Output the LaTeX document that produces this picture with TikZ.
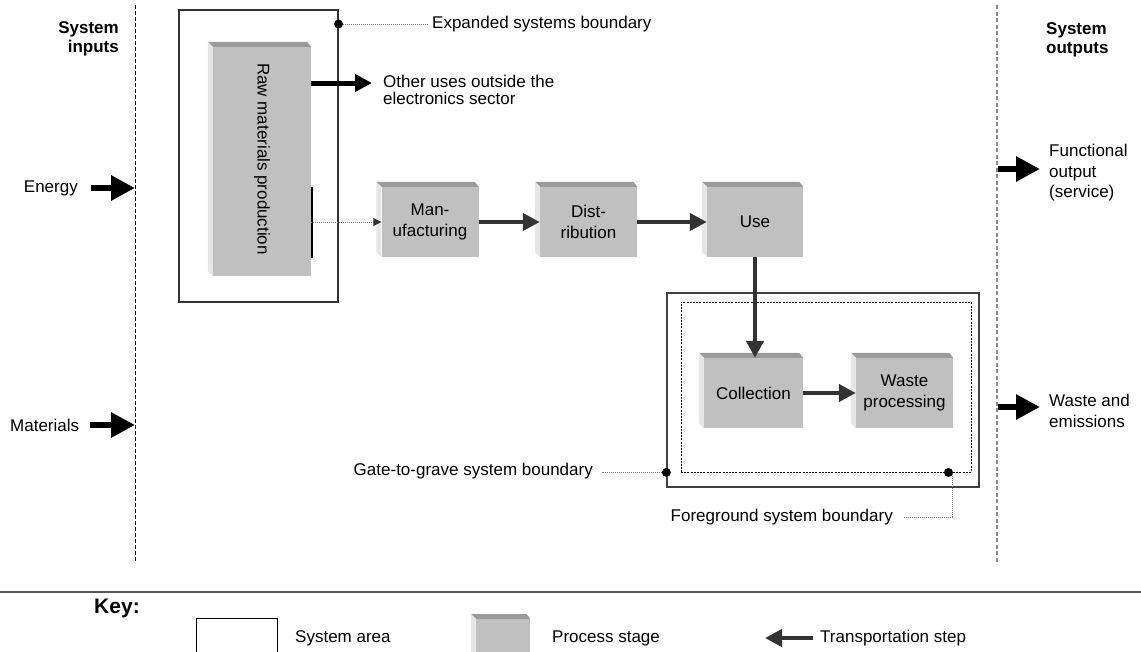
\documentclass[tikz,border=0pt]{standalone}
\usepackage{fontspec}
\setmainfont{Liberation Sans}
\usetikzlibrary{arrows.meta}

\definecolor{stagefront}{HTML}{C0C0C0}
\definecolor{stagetop}{HTML}{9B9B9B}
\definecolor{stageside}{HTML}{E6E6E6}
\definecolor{flowgray}{HTML}{333333}
\definecolor{leadergray}{HTML}{7A7A7A}
\definecolor{rulegray}{HTML}{555555}
\definecolor{outputgray}{HTML}{8A8A8A}

% top and left faces that give a process stage its raised look
\newcommand\stagebevel[1]{%
  \fill[stagetop] (#1.north west) -- (#1.north east) -- ++(-4,-5)
    -- ([shift={(-5,-5)}]#1.north west) -- cycle;
  \fill[stageside] (#1.north west) -- ([shift={(-5,-5)}]#1.north west)
    -- ([shift={(-5,-5)}]#1.south west) -- (#1.south west) -- cycle;}

\begin{document}
\begin{tikzpicture}[x=1pt,y=-1pt,
  every node/.style={inner sep=0pt},
  font=\fontsize{17}{20.5}\selectfont,
  stagebox/.style={fill=stagefront, minimum width=97pt, minimum height=70pt, align=center},
  heading/.style={font=\bfseries\fontsize{17}{19}\selectfont},
  bigarrow/.style={line width=6pt, -{Triangle[length=24pt 0,width=24pt 0]}},
  sidearrow/.style={line width=5pt, -{Triangle[length=17pt 0,width=17pt 0]}},
  flowarrow/.style={draw=flowgray, line width=4.5pt, -{Triangle[length=17pt 0,width=17pt 0]}},
  leader/.style={draw=leadergray, line width=0.9pt, dash pattern=on 1pt off 1pt},
  areabox/.style={draw=black!80, line width=1.1pt},
  dot/.style={fill=black},
]
\clip (0,0) rectangle (1141,651);

% ---------- system edges ----------
\coordinate (intop) at (135,5);
\coordinate (inbot) at (135,563);
\coordinate (outtop) at (997,5);
\coordinate (outbot) at (997,563);
\draw[line width=1pt, dash pattern=on 4pt off 2pt] (intop) -- (inbot);
\draw[outputgray, line width=1.2pt, dash pattern=on 4pt off 2.5pt] (outtop) -- (outbot);

\node[heading, align=right, anchor=east] (inhead) at (119,39) {System\\inputs};
\node[heading, align=left, anchor=west] (outhead) at (1046,40) {System\\outputs};

% ---------- inputs ----------
\node[anchor=east] (energy) at (78,188) {Energy};
\coordinate (energyin) at (135,188);
\draw[bigarrow] ([xshift=13pt]energy.east) -- (energyin);

\node[anchor=west] (materials) at (10,425) {Materials};
\coordinate (materialsin) at (135,425);
\draw[bigarrow] ([xshift=11pt]materials.east) -- (materialsin);

% ---------- outputs ----------
\coordinate (funcfrom) at (998,169);
\node[anchor=west, align=left] (funcout) at (1049,173) {Functional\\output\\(service)};
\draw[bigarrow] (funcfrom) -- ([xshift=-9pt]funcfrom -| funcout.west);

\coordinate (wastefrom) at (998,407);
\node[anchor=west, align=left] (wasteout) at (1049,411) {Waste and\\emissions};
\draw[bigarrow] (wastefrom) -- ([xshift=-9pt]wastefrom -| wasteout.west);

% ---------- expanded system ----------
\node[areabox, minimum width=159pt, minimum height=292pt] (expbox) at (258.5,156) {};
\node[anchor=west] (explabel) at (432,24) {Expanded systems boundary};
\coordinate (expdot) at (expbox.east |- explabel.west);
\draw[leader] (expdot) -- ([xshift=-5pt]explabel.west);
\fill[dot] (expdot) circle (4.5pt);

\node[stagebox, minimum width=98pt, minimum height=229pt] (raw) at (262,161.5) {};
\stagebevel{raw}
\node[rotate=-90] (rawlabel) at (262,159) {Raw materials production};
\draw[line width=2pt] (312,187) -- (312,258);

\node[anchor=west, align=left, font=\fontsize{17}{17.5}\selectfont] (otheruses) at (383,90)
  {Other uses outside the\\electronics sector};
\coordinate (otherto) at (372,83);
\draw[sidearrow] (raw.east |- otherto) -- (otherto);

% ---------- life cycle stages ----------
\node[stagebox] (man) at (430,222) {Man-\\ufacturing};
\node[stagebox] (dist) at (588.5,222) {Dist-\\ribution};
\node[stagebox, minimum width=96pt] (use) at (755,222) {Use};
\foreach \s in {man,dist,use} {\stagebevel{\s}}

\draw[leader, -{Triangle[length=8pt 0,width=8pt 0,color=flowgray]}] (raw.east |- man) -- (man);
\draw[flowarrow] (man) -- (dist);
\draw[flowarrow] (dist) -- (use);

% ---------- gate-to-grave / foreground ----------
\node[draw=black!75, line width=1.3pt, minimum width=312pt, minimum height=194pt] (gatebox) at (823,390) {};
\node[draw, line width=0.9pt, dash pattern=on 2pt off 1.2pt, minimum width=290pt, minimum height=170pt] (fgbox) at (826,387) {};

\node[stagebox, minimum width=99pt] (coll) at (753.5,393) {Collection};
\node[stagebox] (waste) at (904.5,393) {Waste\\processing};
\stagebevel{coll}
\stagebevel{waste}

\draw[flowarrow] (use.south) -- (use.south |- coll.north);
\draw[flowarrow] (coll) -- (waste);

\node[anchor=east] (gatelabel) at (593,471) {Gate-to-grave system boundary};
\coordinate (gatedot) at (gatebox.west |- fgbox.south);
\draw[leader] (gatedot) -- ([xshift=9pt]gatelabel.east |- gatedot);
\fill[dot] (gatedot) circle (4.5pt);

\node[anchor=east] (fglabel) at (893,517) {Foreground system boundary};
\coordinate (fgdot) at ([xshift=-23pt]fgbox.south east);
\draw[leader] ([xshift=4pt]fgdot) |- ([xshift=10pt]fglabel.east);
\fill[dot] (fgdot) circle (4.5pt);

% ---------- key ----------
\coordinate (rulel) at (0,592);
\coordinate (ruler) at (1141,592);
\draw[rulegray, line width=1.3pt] (rulel) -- (ruler);

\node[font=\bfseries\fontsize{21}{24}\selectfont] (keyhead) at (117,608) {Key:};

\node[draw, line width=1.2pt, minimum width=81pt, minimum height=50pt, anchor=north west] (keyarea) at (196,618) {};
\node[anchor=west] (keyarealabel) at (295,638) {System area};

\node[stagebox, minimum width=54pt, minimum height=50pt, anchor=north west] (keystage) at (476,619) {};
\stagebevel{keystage}
\node[anchor=west] (keystagelabel) at (552,638) {Process stage};

\node[anchor=west] (keytransport) at (820,638) {Transportation step};
\coordinate (keytip) at (765,638);
\draw[flowarrow] ([xshift=-7pt]keytransport.west) -- (keytip);
\end{tikzpicture}
\end{document}
